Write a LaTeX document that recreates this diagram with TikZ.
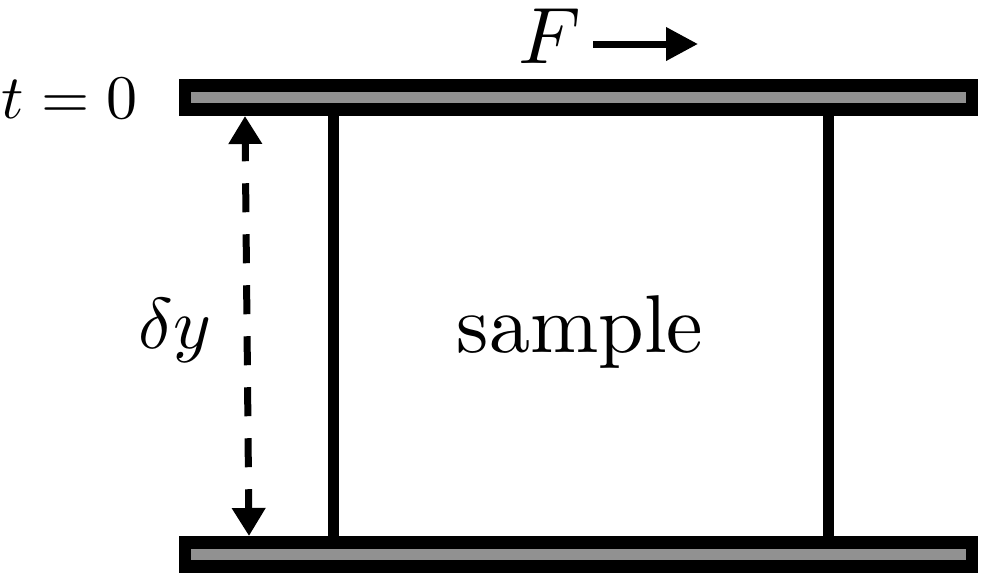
\documentclass[tikz,border=0pt]{standalone}
\usetikzlibrary{arrows.meta}
\definecolor{plategray}{RGB}{145,145,145}
\newcommand{\bigmath}[2]{\scalebox{#1}{\normalsize$#2$}}
\newcommand{\bigtext}[2]{\scalebox{#1}{\normalsize #2}}
\begin{document}
\begin{tikzpicture}[x=1pt,y=-1pt,
  plate/.style={fill=black,draw=none,inner sep=0pt,minimum width=799pt,minimum height=37pt},
  platecore/.style={fill=plategray,draw=none,inner sep=0pt,minimum width=775pt,minimum height=11pt},
  wall/.style={line width=11.5pt,black},
  gap/.style={line width=7pt,dash pattern=on 29pt off 22pt,dash phase=10pt,
    {Triangle[width=32pt,length=28pt]}-{Triangle[width=32pt,length=28pt]}},
  force/.style={line width=7pt,-{Triangle[width=32pt,length=32pt]}},
  lbl/.style={anchor=base,inner sep=0pt}]
\useasboundingbox (0,0) rectangle (985,579);
% plates
\node[plate] (topplate) at (578.5,97.5) {};
\node[platecore] (topcore) at (578.5,97.5) {};
\node[plate] (botplate) at (578.5,554.5) {};
\node[platecore] (botcore) at (578.5,554.5) {};
% sample walls
\coordinate (lwt) at (333.5,116);
\coordinate (lwb) at (333.5,536);
\coordinate (rwt) at (828.5,116);
\coordinate (rwb) at (828.5,536);
\draw[wall] (lwt) -- (lwb);
\draw[wall] (rwt) -- (rwb);
% gap arrow
\coordinate (gt) at (245,116);
\coordinate (gb) at (249,536);
\draw[gap] (gt) -- (gb);
% force arrow
\coordinate (fs) at (593,44);
\coordinate (fe) at (698,44);
\draw[force] (fs) -- (fe);
% labels
\node[lbl] (sample) at (580,352) {\bigtext{8.2}{sample}};
\node[lbl] (tzero) at (70,118) {\bigmath{6.2}{t=0}};
\node[lbl] (dy) at (175,348) {\bigmath{7.2}{\delta y}};
\node[lbl] (F) at (550,63) {\bigmath{8.0}{F}};
\end{tikzpicture}
\end{document}
